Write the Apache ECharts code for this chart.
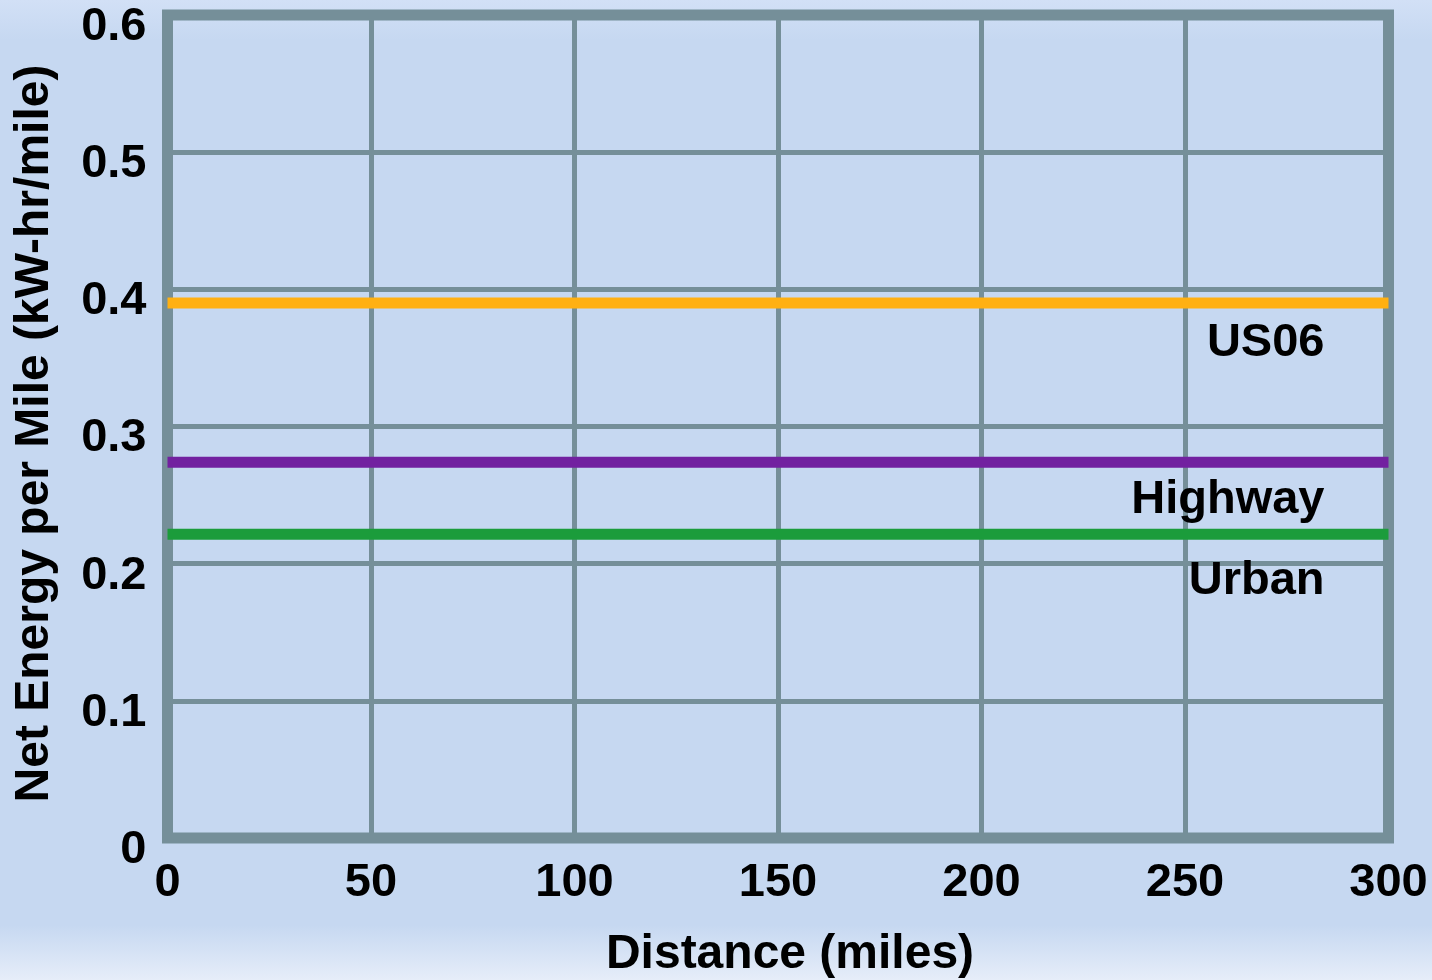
<!DOCTYPE html>
<html>
<head>
<meta charset="utf-8">
<title>Net Energy per Mile</title>
<script src="https://cdn.jsdelivr.net/npm/echarts@6/dist/echarts.min.js"></script>
<style>
  html, body { margin: 0; padding: 0; }
  body {
    width: 1432px; height: 980px; overflow: hidden;
    background: linear-gradient(to bottom, #d2e0f6 0px, #c6d8f1 40px, #c6d8f1 925px, #e6edf9 980px);
  }
  #chart { width: 1432px; height: 980px; }
</style>
</head>
<body>
<div id="chart"></div>
<script>
// Distance span of each drive cycle (miles)
const distance = [0, 300];
// Net energy per mile for each cycle (kW-hr/mile)
const us06Values = [0.390, 0.390];
const highwayValues = [0.274, 0.274];
const urbanValues = [0.2215, 0.2215];
const seriesNames = ['US06', 'Highway', 'Urban'];
const xTicks = [0, 50, 100, 150, 200, 250, 300];
const yTicks = [0, 0.1, 0.2, 0.3, 0.4, 0.5, 0.6];

const gridColor = '#758f99';
const fontFamily = '"Liberation Sans", Arial, sans-serif';

function buildSeries(name, values, color, labelOffset) {
  return {
    name: name,
    type: 'line',
    data: distance.map((d, i) => {
      const item = { value: [d, values[i]] };
      if (i === distance.length - 1) {
        item.label = {
          show: true,
          formatter: name,
          position: 'inside',
          align: 'right',
          verticalAlign: 'middle',
          offset: labelOffset,
          color: '#000',
          fontSize: 47,
          fontWeight: 'bold',
          fontFamily: fontFamily
        };
      }
      return item;
    }),
    showSymbol: true,
    symbol: 'circle',
    symbolSize: 0,
    lineStyle: { color: color, width: 11, cap: 'butt' },
    itemStyle: { color: color },
    silent: true,
    animation: false,
    z: 5
  };
}

const chart = echarts.init(document.getElementById('chart'), null, { renderer: 'canvas' });
chart.setOption({
  backgroundColor: 'transparent',
  animation: false,
  grid: {
    show: true,
    containLabel: false,
    outerBoundsMode: 'none',
    left: 167.5,
    right: 43.5,
    top: 15,
    bottom: 142,
    borderColor: gridColor,
    borderWidth: 11,
    backgroundColor: 'transparent'
  },
  xAxis: {
    type: 'value',
    min: xTicks[0],
    max: xTicks[xTicks.length - 1],
    interval: 50,
    name: 'Distance (miles)',
    nameLocation: 'middle',
    nameGap: 93,
    nameTextStyle: {
      color: '#000', fontSize: 48, fontWeight: 'bold', fontFamily: fontFamily,
      padding: [0, 0, 0, 24]
    },
    axisLine: { show: false },
    axisTick: { show: false },
    axisLabel: {
      color: '#000', fontSize: 47, fontWeight: 'bold', fontFamily: fontFamily,
      margin: 22
    },
    splitLine: { show: true, lineStyle: { color: gridColor, width: 5 } }
  },
  yAxis: {
    type: 'value',
    min: yTicks[0],
    max: yTicks[yTicks.length - 1],
    interval: 0.1,
    name: 'Net Energy per Mile (kW-hr/mile)',
    nameLocation: 'middle',
    nameRotate: 90,
    nameGap: 109,
    nameTextStyle: {
      color: '#000', fontSize: 48, fontWeight: 'bold', fontFamily: fontFamily,
      padding: [0, 14, 0, 0]
    },
    axisLine: { show: false },
    axisTick: { show: false },
    axisLabel: {
      color: '#000', fontSize: 47, fontWeight: 'bold', fontFamily: fontFamily,
      margin: 21,
      verticalAlign: 'top',
      lineHeight: 24,
      formatter: v => (v === 0 ? '0' : v.toFixed(1))
    },
    splitLine: { show: true, lineStyle: { color: gridColor, width: 5 } }
  },
  series: [
    buildSeries(seriesNames[0], us06Values, '#ffb012', [-64, 40]),
    buildSeries(seriesNames[1], highwayValues, '#7221a0', [-64, 38]),
    buildSeries(seriesNames[2], urbanValues, '#1b9c3b', [-64, 47])
  ]
});
</script>
</body>
</html>
